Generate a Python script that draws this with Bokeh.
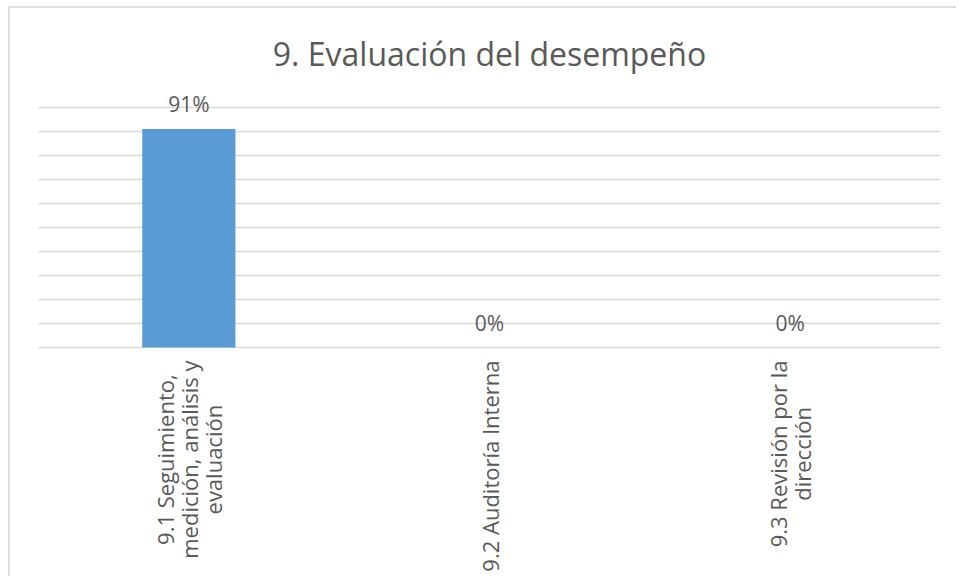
import math
from bokeh.plotting import figure
from bokeh.models import ColumnDataSource, LabelSet, Label, FactorRange, Range1d, SingleIntervalTicker
from bokeh.core.properties import value
from bokeh.embed import file_html
from bokeh.resources import INLINE

title_text = "9. Evaluación del desempeño"
categories = [
    "9.1 Seguimiento,\nmedición, análisis y\nevaluación",
    "9.2 Auditoría Interna",
    "9.3 Revisión por la\ndirección",
]
values = [91, 0, 0]
value_labels = ["91%", "0%", "0%"]

TEXT = "#595959"
GRID = "#d9d9d9"
BAR = "#5B9BD5"
FONT = "Open Sans"

src = ColumnDataSource(dict(cat=categories, val=values, lab=value_labels))

# frame spans the whole figure height; 2.4 px per percent
p = figure(
    width=948, height=570,
    x_range=FactorRange(*categories, range_padding=0),
    y_range=Range1d(-96.25, 141.25),
    output_backend="svg", toolbar_location=None,
    min_border_left=28, min_border_right=18,
    min_border_top=0, min_border_bottom=0,
)
p.styles = {"margin-left": "8px", "margin-top": "6px",
            "border-left": "2px solid #dedede", "border-top": "2px solid #dedede"}
p.outline_line_color = None
p.background_fill_color = "white"
p.border_fill_color = "white"

p.vbar(x="cat", top="val", width=0.31, source=src, color=BAR, line_color=None)

p.xaxis.visible = False
p.yaxis.visible = False
p.yaxis.ticker = SingleIntervalTicker(interval=10, num_minor_ticks=0)
p.ygrid.grid_line_color = GRID
p.ygrid.grid_line_width = 1.6
p.ygrid.bounds = (0, 100)
p.xgrid.grid_line_color = None

# category labels, rotated, lines centred, block hanging below the baseline
p.text(x="cat", y=0, text="cat", source=src, angle=math.pi / 2,
       text_align="center", anchor=value("center_right"), y_offset=13,
       text_font=value(FONT), text_font_size="22px", text_color=TEXT,
       text_line_height=0.8)

labels = LabelSet(x="cat", y="val", text="lab", source=src, y_offset=25,
                  text_align="center", text_baseline="middle",
                  text_font=value(FONT), text_font_size="21px", text_color=TEXT)
p.add_layout(labels)

p.add_layout(Label(x=1.5, y=122.3, text=title_text, text_align="center",
                   text_baseline="middle", text_font=FONT, text_font_size="32px",
                   text_color=TEXT))

open("out.html", "w").write(file_html(p, INLINE))
